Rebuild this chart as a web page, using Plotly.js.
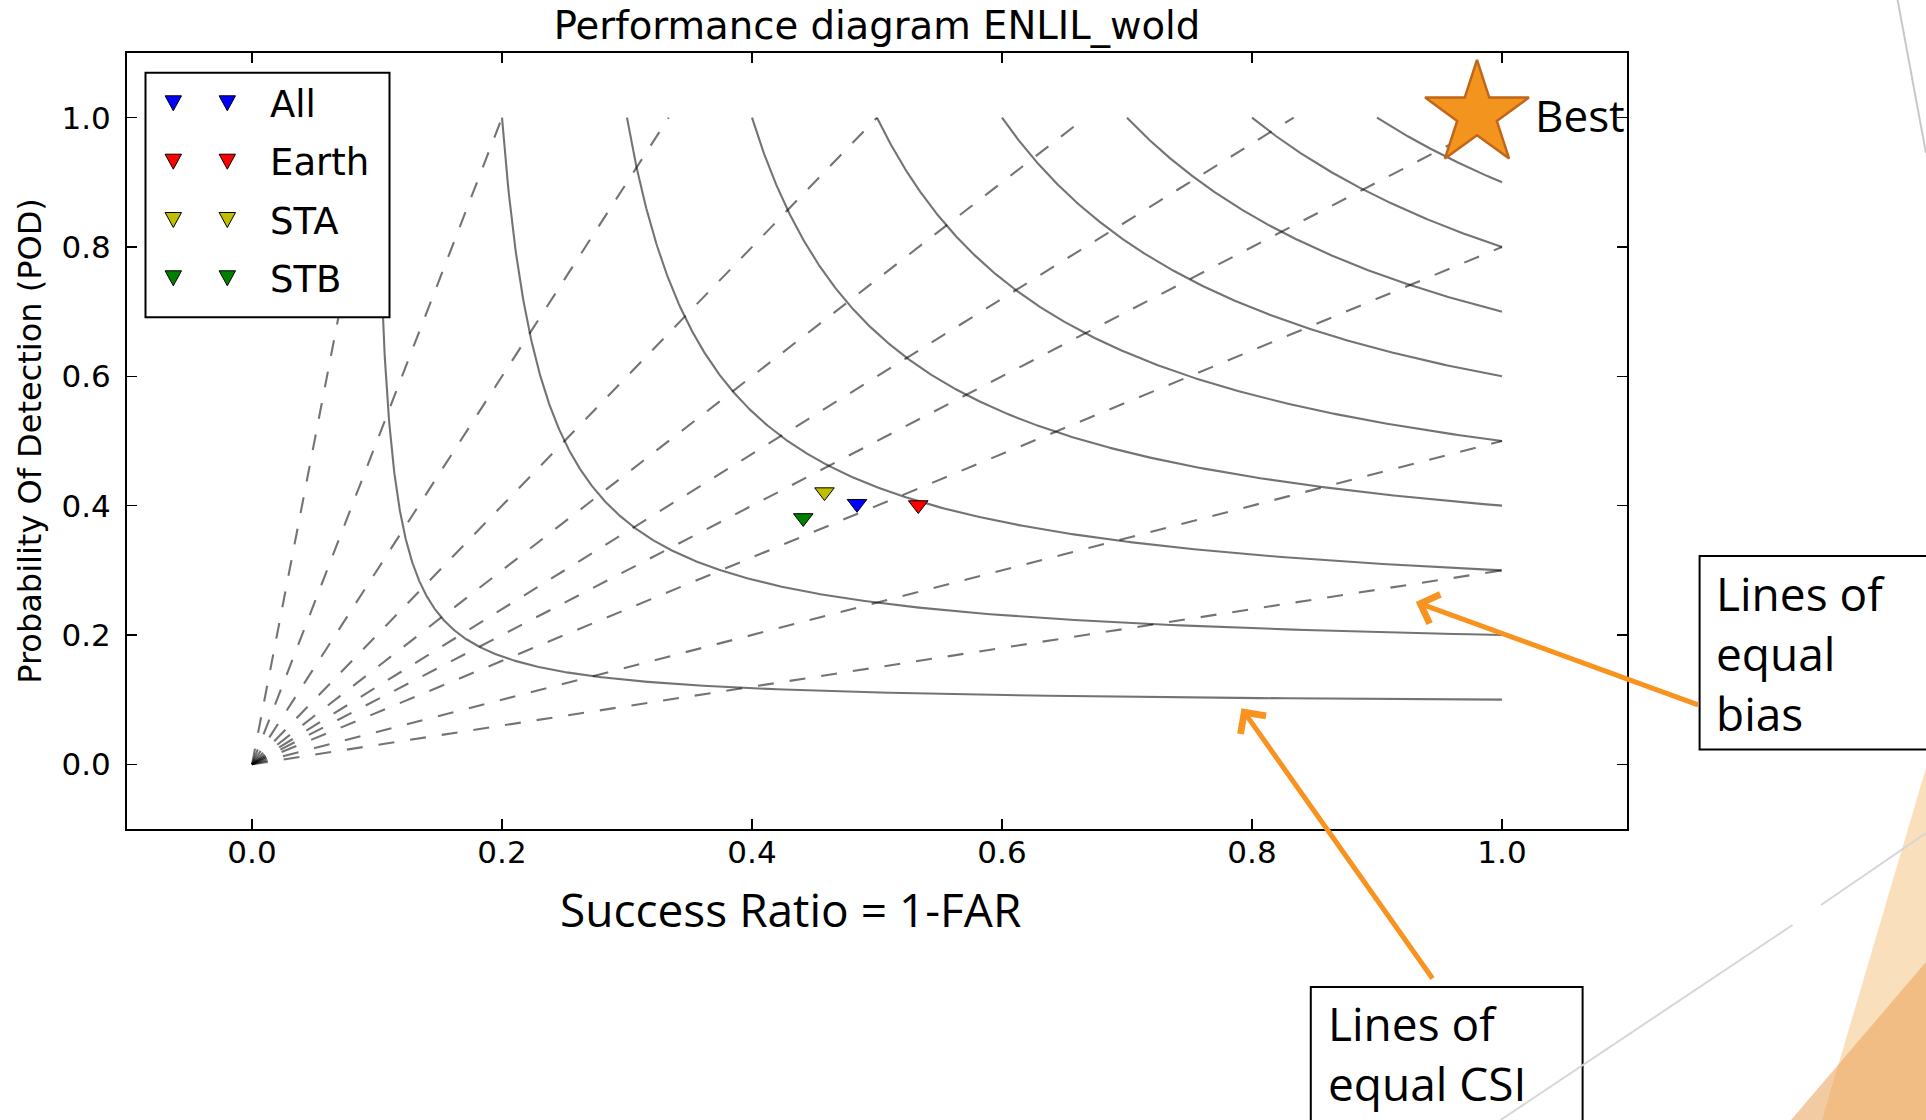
<!DOCTYPE html>
<html>
<head>
<meta charset="utf-8">
<script src="https://cdn.plot.ly/plotly-3.0.1.min.js"></script>
<style>
html, body { margin: 0; padding: 0; background: #ffffff; }
#chart { width: 1926px; height: 1120px; }
</style>
</head>
<body>
<div id="chart"></div>
<script>
// ---------------- data ----------------
const categories   = ['All', 'Earth', 'STA', 'STB'];
const successRatio = [0.484, 0.533, 0.458, 0.441];
const podValues    = [0.403, 0.401, 0.421, 0.381];
const csiLevels    = [0.1, 0.2, 0.3, 0.4, 0.5, 0.6, 0.7, 0.8, 0.9];
const biasLevels   = [0.3, 0.5, 0.8, 1, 1.2, 1.5, 2, 3, 5, 10];
const tickVals     = [0, 0.2, 0.4, 0.6, 0.8, 1.0];
const tickText     = ['0.0', '0.2', '0.4', '0.6', '0.8', '1.0'];
const bestSR       = [0.98];
const bestPOD      = [1.005];
const bestLabel    = 'Best';

// ---------------- styles ----------------
const seriesColors = ['#0000FF', '#FF0000', '#BFBF00', '#008000'];
const W = 1926, H = 1120;
const M = { l: 127, r: 299, t: 53, b: 291 };
const PW = W - M.l - M.r, PH = H - M.t - M.b;
const px = v => (v - M.l) / PW;           // pixel x -> paper x
const py = v => (H - M.b - v) / PH;       // pixel y -> paper y
const isoColor = 'rgba(0,0,0,0.55)';
const ORANGE = '#F7931E';
const overlayFont = 'Open Sans';
const OVS = 46;

const traces = [];

// lines of equal CSI (isolines 1/SR + 1/POD - 1 = 1/CSI)
csiLevels.forEach(c => {
  const k = 1 / c + 1, n = 300;
  const xs = [], ys = [];
  for (let i = 0; i <= n; i++) {
    const p = 1 / c - (1 / c - 1) * i / n;   // p = 1/SR from 1/c down to 1
    xs.push(1 / p);
    ys.push(1 / (k - p));
  }
  traces.push({ x: xs, y: ys, mode: 'lines', type: 'scatter', hoverinfo: 'skip', showlegend: false,
    name: 'CSI ' + c, line: { color: isoColor, width: 2.1 } });
});

// lines of equal bias (POD = bias * SR)
biasLevels.forEach(b => {
  const sEnd = Math.min(1, 1 / b);
  traces.push({ x: [0, sEnd], y: [0, b * sEnd], mode: 'lines', type: 'scatter', hoverinfo: 'skip',
    showlegend: false, name: 'bias ' + b,
    line: { color: isoColor, width: 2.1, dash: '16px,16px' } });
});

// observations
categories.forEach((name, i) => {
  traces.push({ x: [successRatio[i]], y: [podValues[i]], name: name, mode: 'markers', type: 'scatter',
    showlegend: false,
    marker: { symbol: 'triangle-down', size: 17, color: seriesColors[i], line: { color: '#000', width: 1 } } });
});

// best point star
traces.push({ x: bestSR, y: bestPOD, name: bestLabel, mode: 'markers', type: 'scatter', showlegend: false,
  cliponaxis: false,
  marker: { symbol: 'star', size: 78, color: '#F3941E', line: { color: '#C0661A', width: 2.5 } } });

// ---------------- shapes ----------------
const shapes = [];
// slide decorations
shapes.push({ type: 'path', xref: 'paper', yref: 'paper', layer: 'below',
  path: `M${px(1926)},${py(768)} L${px(1822)},${py(1120)} L${px(1926)},${py(1120)} Z`,
  fillcolor: '#FADFBD', line: { width: 0 } });
shapes.push({ type: 'path', xref: 'paper', yref: 'paper', layer: 'below',
  path: `M${px(1926)},${py(962)} L${px(1791)},${py(1120)} L${px(1926)},${py(1120)} Z`,
  fillcolor: 'rgba(233,160,85,0.55)', line: { width: 0 } });
shapes.push({ type: 'line', xref: 'paper', yref: 'paper', layer: 'below',
  x0: px(1897.6), y0: py(0), x1: px(1926), y1: py(153), line: { color: '#C8C8C8', width: 2 } });

// legend box
const LEG = { x0: 145.5, x1: 389.5, y0: 72.7, y1: 317.3, rows: [103.3, 161.7, 220, 278.3], mx: [173.3, 227.3], tx: 268 };
shapes.push({ type: 'rect', xref: 'paper', yref: 'paper', layer: 'above',
  x0: px(LEG.x0), x1: px(LEG.x1), y0: py(LEG.y0), y1: py(LEG.y1),
  fillcolor: '#ffffff', line: { color: '#000', width: 2 } });
categories.forEach((name, i) => {
  const cy = LEG.rows[i];
  LEG.mx.forEach(cx => {
    const hw = 8.2, hh = 7.5;
    shapes.push({ type: 'path', xref: 'paper', yref: 'paper', layer: 'above',
      path: `M${px(cx - hw)},${py(cy - hh)} L${px(cx + hw)},${py(cy - hh)} L${px(cx)},${py(cy + hh)} Z`,
      fillcolor: seriesColors[i], line: { color: '#000', width: 1 } });
  });
});

// annotation boxes
shapes.push({ type: 'rect', xref: 'paper', yref: 'paper', layer: 'above',
  x0: px(1699.6), x1: px(1970), y0: py(556), y1: py(749.4),
  fillcolor: '#ffffff', line: { color: '#000', width: 2 } });
shapes.push({ type: 'rect', xref: 'paper', yref: 'paper', layer: 'above',
  x0: px(1310.8), x1: px(1582.6), y0: py(987), y1: py(1150),
  fillcolor: '#ffffff', line: { color: '#000', width: 2 } });
// thin slide line crossing over the CSI box
shapes.push({ type: 'line', xref: 'paper', yref: 'paper', layer: 'above',
  x0: px(1500.6), y0: py(1120), x1: px(1792.5), y1: py(925), line: { color: '#D6D6D6', width: 2 } });
shapes.push({ type: 'line', xref: 'paper', yref: 'paper', layer: 'above',
  x0: px(1821), y0: py(905), x1: px(1926), y1: py(833), line: { color: '#D6D6D6', width: 2 } });

// ---------------- annotations ----------------
const annotations = [];
categories.forEach((name, i) => {
  annotations.push({ xref: 'paper', yref: 'paper', x: px(LEG.tx), y: py(LEG.rows[i] + 1.2),
    xanchor: 'left', yanchor: 'middle', showarrow: false, text: name,
    font: { family: 'DejaVu Sans', size: 37, color: '#000' } });
});
annotations.push({ xref: 'paper', yref: 'paper', x: px(790.3), y: py(926.7 - 0.388 * OVS),
  xanchor: 'center', yanchor: 'middle', showarrow: false, text: 'Success Ratio = 1-FAR',
  font: { family: overlayFont, size: OVS, color: '#000' } });
annotations.push({ xref: 'paper', yref: 'paper', x: px(1533), y: py(131.7 - 0.388 * 44),
  xanchor: 'left', yanchor: 'middle', showarrow: false, text: bestLabel,
  font: { family: overlayFont, size: 44, color: '#000' } });
annotations.push({ xref: 'paper', yref: 'paper', x: px(1714), y: py(610.7 - 1.069 * OVS - 2),
  xanchor: 'left', yanchor: 'top', align: 'left', showarrow: false, text: 'Lines of<br>equal<br>bias',
  font: { family: overlayFont, size: OVS, color: '#000' } });
annotations.push({ xref: 'paper', yref: 'paper', x: px(1326), y: py(1040.7 - 1.069 * OVS - 2),
  xanchor: 'left', yanchor: 'top', align: 'left', showarrow: false, text: 'Lines of<br>equal CSI',
  font: { family: overlayFont, size: OVS, color: '#000' } });
// arrows
annotations.push({ xref: 'paper', yref: 'paper', x: px(1415.8), y: py(602), ax: 283.8, ay: 103.5,
  axref: 'pixel', ayref: 'pixel', text: '', showarrow: true, arrowhead: 4, arrowsize: 1.2,
  arrowwidth: 5, arrowcolor: ORANGE, standoff: 0, startstandoff: 0 });
annotations.push({ xref: 'paper', yref: 'paper', x: px(1241.5), y: py(708.3), ax: 192.1, ay: 271.7,
  axref: 'pixel', ayref: 'pixel', text: '', showarrow: true, arrowhead: 4, arrowsize: 1.2,
  arrowwidth: 5, arrowcolor: ORANGE, standoff: 0, startstandoff: 0 });

const axisCommon = {
  range: [-0.1, 1.1], tickvals: tickVals, ticktext: tickText, ticks: 'inside', ticklen: 10,
  tickwidth: 1.2, tickcolor: '#000', showline: true, linewidth: 2, linecolor: '#000',
  mirror: 'ticks', showgrid: false, zeroline: false, fixedrange: true,
  tickfont: { family: 'DejaVu Sans', size: 31, color: '#000' }
};

const layout = {
  width: W, height: H,
  margin: M,
  paper_bgcolor: '#ffffff', plot_bgcolor: '#ffffff',
  font: { family: 'DejaVu Sans', color: '#000' },
  showlegend: false,
  title: { text: 'Performance diagram ENLIL_wold', font: { family: 'DejaVu Sans', size: 38.6, color: '#000' },
    xref: 'paper', x: 0.5, xanchor: 'center', yref: 'container', y: 1 - (39.3 - 0.35 * 38.6) / H, yanchor: 'middle' },
  xaxis: Object.assign({}, axisCommon, { ticklabelstandoff: -5 }),
  yaxis: Object.assign({}, axisCommon, { ticklabelstandoff: 8,
    title: { text: 'Probability Of Detection (POD)', font: { family: 'DejaVu Sans', size: 32, color: '#000' }, standoff: 10 } }),
  shapes: shapes,
  annotations: annotations
};

Plotly.newPlot('chart', traces, layout, { staticPlot: true, displayModeBar: false });
</script>
</body>
</html>
